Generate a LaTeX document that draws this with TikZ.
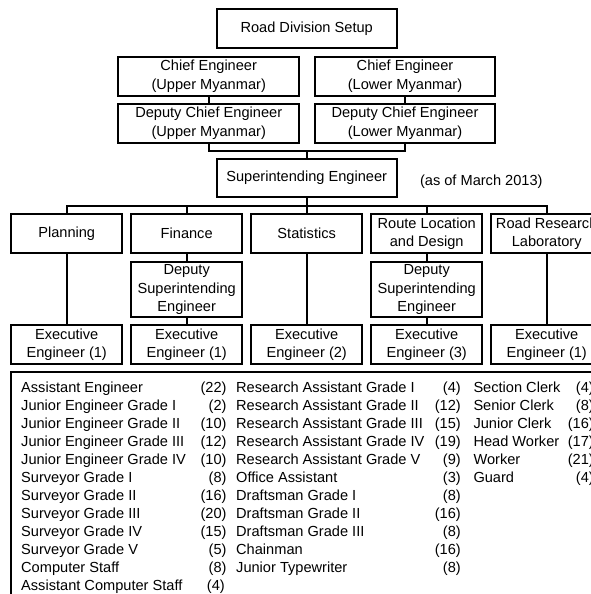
\documentclass[tikz,border=0pt]{standalone}
\usepackage{fontspec}
\setmainfont{Liberation Sans}
\usepackage{tikz}
\usetikzlibrary{positioning,calc}

\begin{document}
\begin{tikzpicture}[x=1pt, y=-1pt,
    every node/.style={font=\fontsize{14.6}{18.3}\selectfont},
    box/.style={draw, line width=1.9pt, align=center, inner sep=0pt,
      minimum width=#1, minimum height=39pt},
    box/.default=111pt,
    link/.style={line width=1.7pt}]
  \useasboundingbox (0,0) rectangle (590,594);
  % top of the chart
  \node[box=180pt] (rds) at (306.7,28.8) {Road Division Setup};
  \node[box=180.7pt] (ceu) at (208.7,76.2) {Chief Engineer\\(Upper Myanmar)};
  \node[box=180pt] (cel) at (405,76.2) {Chief Engineer\\(Lower Myanmar)};
  \node[box=180.7pt] (dceu) at (208.7,123.2) {Deputy Chief Engineer\\(Upper Myanmar)};
  \node[box=180pt] (dcel) at (405,123.2) {Deputy Chief Engineer\\(Lower Myanmar)};
  \node[box=180pt, minimum height=37.7pt] (se) at (306.7,177.8) {Superintending Engineer};
  \node (asof) at (481.3,181.7) {(as of March 2013)};
  \coordinate (j1) at (306.7,150.7);
  \coordinate (j2) at (306.7,205.7);
  % branches
  \node[box, minimum height=38.4pt] (plan) at (66.7,233.5) {Planning};
  \node[box, minimum height=38.4pt] (fin) at (186.7,233.5) {Finance};
  \node[box, minimum height=38.4pt] (stat) at (306.7,233.5) {Statistics};
  \node[box, minimum height=38.4pt] (route) at (426.7,233.5) {Route Location\\and Design};
  \node[box, minimum height=38.4pt] (rrl) at (546.7,233.5) {Road Research\\Laboratory};
  \node[box, minimum height=55.6pt] (dsefin) at (186.7,289.5) {Deputy\\Superintending\\Engineer};
  \node[box, minimum height=55.6pt] (dseroute) at (426.7,289.5) {Deputy\\Superintending\\Engineer};
  \node[box] (explan) at (66.7,344.5) {Executive\\Engineer (1)};
  \node[box] (exfin) at (186.7,344.5) {Executive\\Engineer (1)};
  \node[box] (exstat) at (306.7,344.5) {Executive\\Engineer (2)};
  \node[box] (exroute) at (426.7,344.5) {Executive\\Engineer (3)};
  \node[box] (exrrl) at (546.7,344.5) {Executive\\Engineer (1)};
  % connectors
  \draw[link] (ceu) -- (dceu);
  \draw[link] (cel) -- (dcel);
  \draw[link] (dceu.south) |- (j1) -| (dcel.south);
  \draw[link] (j1) -- (se.north);
  \draw[link] (se.south) -- (j2);
  \draw[link] (plan.north) |- (j2) -| (rrl.north);
  \foreach \n in {fin,stat,route}
    \draw[link] (\n.north) -- (\n.north |- j2);
  \draw[link] (plan) -- (explan);
  \draw[link] (fin) -- (dsefin);
  \draw[link] (dsefin) -- (exfin);
  \draw[link] (stat) -- (exstat);
  \draw[link] (route) -- (dseroute);
  \draw[link] (dseroute) -- (exroute);
  \draw[link] (rrl) -- (exrrl);
  % staff list
  \draw[line width=1.9pt] (11,371.7) rectangle (610,610);
  \foreach \name/\cnt [count=\i from 0] in {Assistant Engineer/22,
      Junior Engineer Grade I/2, Junior Engineer Grade II/10,
      Junior Engineer Grade III/12, Junior Engineer Grade IV/10,
      Surveyor Grade I/8, Surveyor Grade II/16, Surveyor Grade III/20,
      Surveyor Grade IV/15, Surveyor Grade V/5, Computer Staff/8} {
    \node[anchor=base west, inner sep=0pt] (na\i) at (21,392.5+17.97*\i) {\name};
    \node[anchor=base east, inner sep=0pt] (ca\i) at (226.7,392.5+17.97*\i) {(\cnt)};
  }
  \node[anchor=base west, inner sep=0pt] (na11) at (21,392.5+17.97*11) {Assistant Computer Staff};
  \node[anchor=base west, inner sep=0pt] (ca11) at (206.7,392.5+17.97*11) {(4)};
  \foreach \name/\cnt [count=\i from 0] in {Research Assistant Grade I/4,
      Research Assistant Grade II/12, Research Assistant Grade III/15,
      Research Assistant Grade IV/19, Research Assistant Grade V/9,
      Office Assistant/3, Draftsman Grade I/8, Draftsman Grade II/16,
      Draftsman Grade III/8, Chainman/16, Junior Typewriter/8} {
    \node[anchor=base west, inner sep=0pt] (nb\i) at (236,392.5+17.97*\i) {\name};
    \node[anchor=base east, inner sep=0pt] (cb\i) at (461,392.5+17.97*\i) {(\cnt)};
  }
  \foreach \name/\cnt [count=\i from 0] in {Section Clerk/4, Senior Clerk/8,
      Junior Clerk/16, Head Worker/17, Worker/21, Guard/4} {
    \node[anchor=base west, inner sep=0pt] (nc\i) at (473.3,392.5+17.97*\i) {\name};
    \node[anchor=base east, inner sep=0pt] (cc\i) at (594,392.5+17.97*\i) {(\cnt)};
  }
\end{tikzpicture}
\end{document}
